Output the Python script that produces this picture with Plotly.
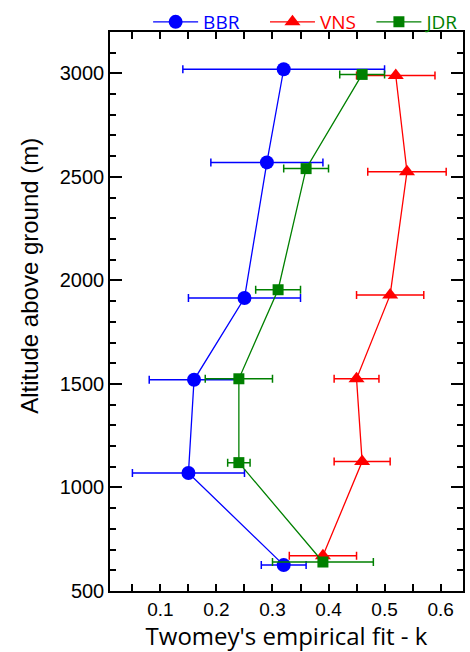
import plotly.graph_objects as go

# ---- data ----
bbr_k = [0.32, 0.29, 0.25, 0.16, 0.15, 0.32]
bbr_alt = [3020, 2570, 1915, 1520, 1070, 625]
bbr_err = [0.18, 0.10, 0.10, 0.08, 0.10, 0.04]

vns_k = [0.52, 0.54, 0.51, 0.45, 0.46, 0.39]
vns_alt = [2990, 2525, 1930, 1525, 1125, 670]
vns_err = [0.07, 0.07, 0.06, 0.04, 0.05, 0.06]

jdr_k = [0.46, 0.36, 0.31, 0.24, 0.24, 0.39]
jdr_alt = [2995, 2540, 1955, 1525, 1120, 640]
jdr_err = [0.04, 0.04, 0.04, 0.06, 0.02, 0.09]

x_tickvals = [0.1, 0.2, 0.3, 0.4, 0.5, 0.6]
y_tickvals = [500, 1000, 1500, 2000, 2500, 3000]

series = [
    ("BBR", bbr_k, bbr_alt, bbr_err, "#0000FF", "circle", 14, "legend"),
    ("VNS", vns_k, vns_alt, vns_err, "#FF0000", "triangle-up", 14, "legend2"),
    ("JDR", jdr_k, jdr_alt, jdr_err, "#008000", "square", 11, "legend3"),
]

fig = go.Figure()
for name, k, alt, err, col, sym, size, leg in series:
    fig.add_trace(go.Scatter(
        x=k, y=alt, mode="lines+markers",
        name=name, legend=leg,
        line=dict(color=col, width=1.3),
        marker=dict(color=col, symbol=sym, size=size),
        error_x=dict(type="data", array=err, symmetric=True,
                     color=col, thickness=1.5, width=4),
    ))

axis_common = dict(
    showline=True, linecolor="black", linewidth=1.5, mirror="allticks",
    ticks="inside", tickcolor="black", tickwidth=1.5,
    showgrid=False, zeroline=False,
)

fig.update_xaxes(
    range=[0.01, 0.64], tickvals=x_tickvals, ticklen=7,
    minor=dict(dtick=0.05, tick0=0, ticks="inside", ticklen=7,
               tickcolor="black", tickwidth=1.5),
    tickfont=dict(family="Liberation Sans, Arial", size=19, color="black"),
    title=dict(text="Twomey's empirical fit - k",
               font=dict(family="Open Sans", size=24, color="black"),
               standoff=4),
    **axis_common,
)
fig.update_yaxes(
    range=[500, 3200], tickvals=y_tickvals, ticklen=12,
    domain=[0, 0.9459],
    minor=dict(dtick=100, tick0=0, ticks="inside", ticklen=6,
               tickcolor="black", tickwidth=1.5),
    tickfont=dict(family="Liberation Sans, Arial", size=20, color="black"),
    **axis_common,
)

fig.add_annotation(
    text="Altitude above ground (m)", textangle=-90,
    xref="paper", yref="paper", x=-0.227, y=0.533,
    xanchor="center", yanchor="middle", showarrow=False,
    font=dict(family="Liberation Sans, Arial", size=24, color="black"),
)


def leg(x, xanchor, color):
    return dict(orientation="h", x=x, xanchor=xanchor,
                y=0.9628, yanchor="middle", itemwidth=45,
                font=dict(family="Open Sans", size=19, color=color),
                bgcolor="rgba(0,0,0,0)")


fig.update_layout(
    width=470, height=652,
    margin=dict(l=110, r=7, t=0, b=61),
    paper_bgcolor="white", plot_bgcolor="white",
    showlegend=True,
    legend=leg(0.108, "left", "#0000FF"),
    legend2=leg(0.439, "left", "#FF0000"),
    legend3=leg(1.004, "right", "#008000"),
)

fig.write_html("out.html")
